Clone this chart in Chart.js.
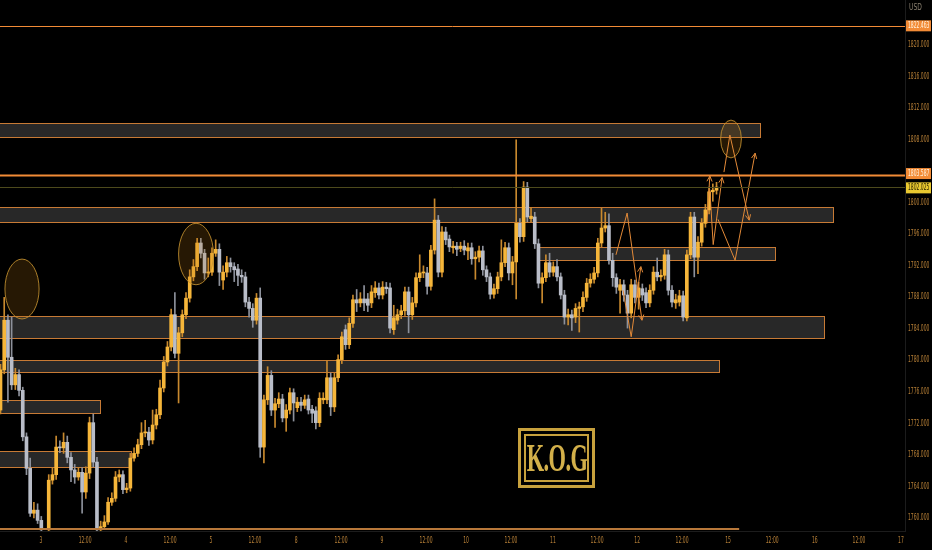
<!DOCTYPE html>
<html>
<head>
<meta charset="utf-8">
<script src="https://cdn.jsdelivr.net/npm/chart.js@4.4.1/dist/chart.umd.min.js"></script>
<style>
  html, body { margin: 0; padding: 0; background: #000; }
  #wrap { position: relative; width: 932px; height: 550px; background: #000; }
  #logo {
    position: absolute; left: 518px; top: 428px; width: 71px; height: 54px;
    border: 3px solid #c7a13d; padding: 0;
  }
  #logo .inner {
    position: absolute; left: 3px; top: 3px; right: 3px; bottom: 3px;
    border: 2px solid #c7a13d; overflow: hidden;
  }
  #logo span {
    position: absolute; left: 50%; top: 50%;
    transform: translate(-50%, -52%) scaleX(0.56);
    font-family: "Liberation Serif", "DejaVu Serif", serif; font-size: 40px; font-weight: bold;
    color: #d3b04a; white-space: nowrap; letter-spacing: -1px;
  }
</style>
</head>
<body>
<div id="wrap">
  <canvas id="chart"></canvas>
  <div id="logo"><div class="inner"><span>K.O.G</span></div></div>
</div>
<script>
// hourly candles, one slot per index (null = session gap)
const opens = [1773.7,1778.8,1785.1,1780.4,1776.9,1778.2,1776.2,1770.3,1766.3,1760.6,1761.0,1759.7,null,
  1758.5,1764.8,1765.5,1769.0,1768.9,1769.6,1767.7,1766.1,1765.2,1765.8,1763.3,1765.7,1772.1,1767.1,
  1758.5,1758.9,1759.5,1762.0,1762.5,1765.2,1765.5,1763.6,1763.8,1767.6,1768.2,1769.3,1770.8,1770.9,
  1769.9,1771.8,1773.1,1776.5,1779.8,1781.7,1785.8,1780.9,1783.5,1785.8,1787.9,1790.6,1791.9,1794.9,
  1793.6,1791.1,1791.2,1793.6,1794.1,1790.2,1791.2,1792.4,1791.9,1791.6,1790.8,1790.6,1787.4,1786.6,
  1785.1,1787.9,1769.0,1775.0,1778.1,1773.7,1774.5,1775.1,1772.7,1773.7,1775.9,1774.0,1774.7,1774.3,
  1775.1,1773.8,1773.6,1772.1,1775.0,1775.0,1777.8,1774.1,1777.8,1780.1,1783.9,1782.0,1784.7,1787.7,
  1787.3,1787.8,1787.8,1787.3,1788.6,1789.2,1788.3,1789.3,1789.2,1783.9,1785.1,1785.8,1786.3,1788.7,
  1785.8,1787.3,1790.5,1791.1,1791.1,1789.4,1794.0,1797.8,1791.2,1796.3,1795.4,1794.3,1794.5,1794.2,
  1794.5,1793.9,1794.3,1792.9,1793.1,1793.9,1791.5,1790.6,1788.4,1789.1,1790.6,1792.4,1794.3,1791.1,
  1792.5,1797.4,1795.7,1802.0,1798.0,1798.2,1794.8,1789.8,1790.5,1792.4,1791.2,1791.9,1790.6,1788.3,
  1785.5,1785.8,1785.5,1786.6,1786.8,1788.0,1789.8,1790.3,1791.1,1794.9,1796.8,1797.1,1792.7,1790.5,
  1788.9,1789.6,1788.3,1786.0,1789.6,1788.0,1789.1,1788.6,1787.3,1788.9,1791.2,1790.6,1790.8,1793.4,
  1788.9,1787.3,1787.4,1788.2,1785.4,1793.4,1798.2,1793.1,1795.0,1797.4,1799.1,1801.4,1801.6];
const highs = [1779.5,1788.0,1785.8,1785.5,1779.0,1778.8,1776.6,1770.8,1767.6,1762.0,1761.8,1760.2,null,
  1765.5,1766.4,1770.4,1769.8,1770.8,1770.4,1768.3,1766.8,1766.4,1766.4,1766.5,1772.8,1773.2,1767.7,
  1759.6,1760.3,1762.6,1763.2,1765.9,1766.1,1766.0,1764.4,1768.2,1768.9,1770.0,1772.1,1772.4,1771.5,
  1773.7,1773.8,1777.5,1780.5,1782.4,1786.5,1788.6,1784.2,1786.4,1788.6,1791.5,1792.8,1795.5,1795.5,
  1794.1,1793.0,1794.3,1795.3,1794.8,1792.0,1793.2,1793.0,1792.4,1792.2,1791.5,1791.2,1788.0,1787.2,
  1788.5,1789.2,1775.6,1779.2,1778.7,1775.2,1775.9,1775.7,1774.4,1776.5,1776.4,1775.3,1775.3,1775.6,
  1775.6,1774.3,1774.1,1775.9,1775.9,1780.0,1778.4,1778.4,1780.7,1783.6,1784.5,1785.4,1788.3,1789.0,
  1788.6,1789.5,1788.5,1789.5,1790.0,1789.8,1790.0,1789.9,1789.8,1787.0,1786.5,1787.0,1789.3,1789.3,
  1788.0,1791.1,1793.4,1792.0,1791.8,1794.6,1800.5,1798.4,1797.0,1796.9,1795.9,1795.1,1795.0,1795.0,
  1795.2,1794.9,1794.9,1793.8,1794.5,1794.5,1792.0,1791.1,1789.7,1791.2,1795.3,1795.0,1794.9,1793.2,
  1808.0,1798.0,1802.7,1802.6,1799.4,1798.8,1795.4,1791.1,1793.4,1793.6,1792.5,1792.8,1791.1,1788.9,
  1786.5,1786.4,1787.2,1787.4,1788.7,1790.4,1791.0,1791.8,1795.5,1799.3,1798.8,1798.6,1793.6,1791.0,
  1790.3,1790.2,1788.9,1790.3,1790.2,1789.9,1789.7,1789.2,1789.6,1791.9,1793.0,1791.5,1794.1,1794.0,
  1789.5,1788.4,1788.9,1788.8,1794.0,1798.8,1798.8,1795.7,1798.0,1799.8,1802.0,1802.4,1802.6];
const lows = [1773.2,1778.3,1774.7,1776.3,1776.3,1775.5,1769.8,1765.5,1760.2,1760.0,1759.3,1758.4,null,
  1758.4,1764.3,1764.9,1768.3,1768.2,1767.0,1764.6,1764.4,1764.8,1760.6,1762.5,1765.0,1766.5,1758.4,
  1758.4,1758.6,1759.2,1761.6,1762.1,1764.6,1763.1,1763.2,1763.4,1767.2,1767.8,1768.8,1770.3,1769.2,
  1769.4,1771.3,1772.6,1776.0,1779.3,1781.2,1780.3,1774.6,1783.0,1785.3,1787.4,1790.1,1791.4,1793.0,
  1790.3,1790.6,1790.8,1793.2,1789.5,1789.0,1790.6,1791.2,1790.0,1789.5,1789.9,1786.8,1785.5,1784.2,
  1784.6,1767.7,1767.0,1774.4,1773.0,1771.5,1774.0,1772.2,1771.0,1773.2,1772.3,1773.5,1773.6,1773.9,
  1773.2,1772.1,1771.3,1771.6,1774.5,1774.5,1773.0,1773.5,1777.3,1779.6,1781.4,1781.5,1784.2,1786.2,
  1786.8,1786.3,1786.2,1786.7,1788.0,1787.8,1787.8,1788.5,1783.5,1783.3,1784.6,1785.3,1785.7,1783.5,
  1785.2,1786.8,1790.0,1790.5,1788.4,1788.9,1793.5,1790.6,1790.6,1794.7,1793.8,1793.6,1793.3,1793.8,
  1793.4,1792.8,1792.2,1790.3,1792.5,1790.8,1790.0,1787.8,1787.9,1788.5,1790.1,1791.9,1790.2,1789.6,
  1787.8,1795.0,1795.1,1797.6,1797.6,1794.2,1789.2,1787.3,1790.0,1790.6,1790.7,1790.1,1787.8,1784.6,
  1784.5,1783.8,1784.8,1783.6,1786.2,1787.5,1789.3,1789.8,1790.6,1794.4,1796.3,1792.2,1789.4,1788.5,
  1786.0,1787.5,1784.1,1785.4,1787.3,1786.5,1787.6,1786.7,1786.8,1788.4,1790.1,1790.1,1790.3,1788.3,
  1786.8,1786.6,1786.9,1785.0,1785.0,1792.9,1790.6,1791.0,1794.5,1796.9,1798.6,1800.2,1801.1];
const closes = [1778.8,1785.1,1780.4,1776.9,1778.2,1776.2,1770.3,1766.3,1760.6,1761.0,1759.7,1758.5,null,
  1764.8,1765.5,1769.0,1768.9,1769.6,1767.7,1766.1,1765.2,1765.8,1763.3,1765.7,1772.1,1767.1,1758.5,
  1758.9,1759.5,1762.0,1762.5,1765.2,1765.5,1763.6,1763.8,1767.6,1768.2,1769.3,1770.8,1770.9,1769.9,
  1771.8,1773.1,1776.5,1779.8,1781.7,1785.8,1780.9,1783.5,1785.8,1787.9,1790.6,1791.9,1794.9,1793.6,
  1791.1,1791.2,1793.6,1794.1,1791.2,1791.2,1792.4,1791.9,1791.5,1790.8,1790.6,1787.4,1786.6,1785.1,
  1787.9,1769.0,1775.0,1778.1,1773.7,1774.5,1775.1,1772.7,1773.7,1775.9,1774.6,1774.7,1774.3,1775.0,
  1773.7,1773.3,1772.1,1775.2,1775.2,1777.8,1774.1,1777.8,1780.1,1783.0,1782.0,1784.7,1787.7,1787.3,
  1787.8,1787.3,1787.0,1788.7,1789.2,1788.3,1789.3,1789.1,1784.1,1785.4,1785.8,1786.3,1788.7,1785.8,
  1787.3,1790.5,1791.1,1791.2,1789.4,1794.0,1797.8,1791.2,1796.3,1795.3,1794.4,1794.5,1794.1,1794.5,
  1794.0,1794.3,1792.9,1793.1,1793.9,1791.5,1790.6,1788.4,1789.1,1790.6,1792.4,1794.3,1791.1,1792.5,
  1797.4,1795.7,1802.0,1798.2,1798.3,1794.8,1789.8,1790.5,1792.4,1791.2,1791.9,1790.6,1788.3,1785.5,
  1785.8,1785.4,1786.6,1786.8,1788.0,1789.8,1790.3,1791.1,1794.9,1796.8,1797.1,1792.7,1790.5,1789.3,
  1789.6,1788.3,1786.0,1789.6,1788.0,1789.2,1788.3,1787.3,1788.9,1791.2,1790.6,1790.8,1793.4,1788.9,
  1787.4,1787.7,1788.2,1785.5,1793.4,1798.2,1793.1,1795.0,1797.4,1799.1,1801.4,1801.6,1802.0];

// time axis: tick positions in candle slots and their labels
const xTickPos = [10.9,22.8,33.8,45.7,56.7,68.6,79.7,91.8,102.8,114.7,125.5,137.6,148.9,160.8,171.6,183.7,196.1,208.0,219.5,231.4,242.7];
const xTickLabels = ["3","12:00","4","12:00","5","12:00","8","12:00","9","12:00","10","12:00","11","12:00","12","12:00","15","12:00","16","12:00","17"];
// 1804 is hidden behind the level tags in the original
const priceTicks = [1760,1764,1768,1772,1776,1780,1784,1788,1792,1796,1800,1808,1812,1816,1820];

// supply / demand boxes
const zoneHigh = [1810.1, 1799.47, 1794.4, 1785.6, 1780.05, 1775.0, 1768.5];
const zoneLow  = [1808.35, 1797.56, 1792.74, 1782.8, 1778.5, 1773.3, 1766.5];
const zoneFrom = [-2, -2, 144.9, -2, -2, -2, -2];
const zoneTo   = [204.7, 224.4, 208.8, 222.0, 193.7, 26.8, 35.2];

// horizontal price levels with axis tags
const levelPrice = [1822.463, 1803.587, 1802.025];
const levelColor = ["#f28b36", "#f28b36", "#4d4a1c"];
const tagColor   = ["#f28b36", "#f28b36", "#e9c830"];
const lowLinePrice = 1758.6, lowLineTo = 199.1;

// highlight ellipses (centre slot, centre price, radius in slots, radius in price)
const ellX  = [5.8, 52.7, 196.9];
const ellY  = [1789.06, 1793.5, 1808.1];
const ellRX = [4.6, 4.7, 2.8];
const ellRY = [3.8, 3.9, 2.4];

// projected paths, arrow head at the last point
const arrowPaths = [
  [[165.9,1793.4],[168.9,1798.7],[172.9,1785.1]],
  [[167.8,1788.9],[170.0,1783.0],[172.6,1791.9]],
  [[190.4,1797.4],[191.2,1803.4]],
  [[191.2,1801.7],[192.1,1794.7],[194.5,1803.2]],
  [[193.4,1797.9],[198.0,1792.7],[203.4,1806.3]],
  [[195.0,1803.9],[196.6,1808.6],[201.8,1797.8]]
];

const UP = "#f6b63a", DOWN = "#b9bdc8", UP_WICK = "#c8892e", DOWN_WICK = "#8d919b";
const AXIS_TEXT = "#b98137";
const AXIS_FONT = "8px 'DejaVu Sans', sans-serif";

const wickData = [], bodyData = [], wickColors = [], bodyColors = [];
opens.forEach((o, i) => {
  if (o === null) return;
  const up = closes[i] >= o;
  wickData.push({ x: i, y: [lows[i], highs[i]] });
  bodyData.push({ x: i, y: [o, closes[i]] });
  wickColors.push(up ? UP_WICK : DOWN_WICK);
  bodyColors.push(up ? UP : DOWN);
});

function arrowHead(ctx, x0, y0, x1, y1) {
  const a = Math.atan2(y1 - y0, x1 - x0);
  const len = 6;
  ctx.beginPath();
  ctx.moveTo(x1 - len * Math.cos(a - 0.45), y1 - len * Math.sin(a - 0.45));
  ctx.lineTo(x1, y1);
  ctx.lineTo(x1 - len * Math.cos(a + 0.45), y1 - len * Math.sin(a + 0.45));
  ctx.stroke();
}

// narrow axis text (TradingView uses a condensed look)
function narrowText(ctx, text, x, y, align, squeeze) {
  ctx.save();
  ctx.translate(x, y);
  ctx.scale(squeeze, 1);
  ctx.textAlign = align;
  ctx.fillText(text, 0, 0);
  ctx.restore();
}

const overlay = {
  id: "overlay",
  beforeDatasetsDraw(chart) {
    const { ctx, chartArea: ca, scales: { x, y } } = chart;
    ctx.save();
    ctx.beginPath();
    ctx.rect(ca.left, ca.top, ca.right - ca.left, ca.bottom - ca.top);
    ctx.clip();
    for (let k = 0; k < zoneHigh.length; k++) {
      const x0 = Math.round(x.getPixelForValue(zoneFrom[k])) + 0.5;
      const x1 = Math.round(x.getPixelForValue(zoneTo[k])) + 0.5;
      const y0 = Math.round(y.getPixelForValue(zoneHigh[k])) + 0.5;
      const y1 = Math.round(y.getPixelForValue(zoneLow[k])) + 0.5;
      ctx.fillStyle = "rgba(66,66,66,0.6)";
      ctx.fillRect(x0, y0, x1 - x0, y1 - y0);
      ctx.strokeStyle = "#c77a35";
      ctx.lineWidth = 1;
      ctx.strokeRect(x0, y0, x1 - x0, y1 - y0);
    }
    ctx.restore();
  },
  afterDatasetsDraw(chart) {
    const { ctx, chartArea: ca, scales: { x, y } } = chart;
    ctx.save();
    ctx.beginPath();
    ctx.rect(ca.left, ca.top, ca.right - ca.left, ca.bottom - ca.top);
    ctx.clip();
    // low line
    const ly = y.getPixelForValue(lowLinePrice);
    ctx.strokeStyle = "#b8783a";
    ctx.lineWidth = 2;
    ctx.beginPath();
    ctx.moveTo(0, ly);
    ctx.lineTo(x.getPixelForValue(lowLineTo), ly);
    ctx.stroke();
    // ellipses
    for (let k = 0; k < ellX.length; k++) {
      const cx = x.getPixelForValue(ellX[k]), cy = y.getPixelForValue(ellY[k]);
      const rx = x.getPixelForValue(ellX[k] + ellRX[k]) - cx;
      const ry = cy - y.getPixelForValue(ellY[k] + ellRY[k]);
      ctx.beginPath();
      ctx.ellipse(cx, cy, rx, ry, 0, 0, Math.PI * 2);
      ctx.fillStyle = "rgba(190,120,20,0.2)";
      ctx.fill();
      ctx.strokeStyle = "rgba(196,146,48,0.85)";
      ctx.lineWidth = 1;
      ctx.stroke();
    }
    // arrows
    ctx.strokeStyle = "#e38a38";
    ctx.lineWidth = 1;
    arrowPaths.forEach(path => {
      const pts = path.map(p => [x.getPixelForValue(p[0]), y.getPixelForValue(p[1])]);
      ctx.beginPath();
      ctx.moveTo(pts[0][0], pts[0][1]);
      for (let i = 1; i < pts.length; i++) ctx.lineTo(pts[i][0], pts[i][1]);
      ctx.stroke();
      const n = pts.length;
      arrowHead(ctx, pts[n - 2][0], pts[n - 2][1], pts[n - 1][0], pts[n - 1][1]);
    });
    ctx.restore();
  },
  afterDraw(chart) {
    const { ctx, scales: { x, y } } = chart;
    const W = chart.width;
    ctx.save();
    ctx.font = AXIS_FONT;
    ctx.textBaseline = "middle";
    ctx.fillStyle = AXIS_TEXT;
    // tick labels from the library's ticks
    y.ticks.forEach(t => {
      narrowText(ctx, t.value.toFixed(3), y.left + 3, y.getPixelForValue(t.value), "left", 0.56);
    });
    x.ticks.forEach((t, i) => {
      const px = x.getPixelForValue(t.value);
      if (px > y.left - 2) return;
      narrowText(ctx, xTickLabels[i], px, x.top + 10, "center", 0.56);
    });
    for (let k = 0; k < levelPrice.length; k++) {
      const py = Math.round(y.getPixelForValue(levelPrice[k])) + 0.5;
      ctx.strokeStyle = levelColor[k];
      ctx.lineWidth = k === 1 ? 2 : 1;
      ctx.beginPath();
      ctx.moveTo(0, py);
      ctx.lineTo(y.left, py);
      ctx.stroke();
    }
    // tags on the price axis
    for (let k = 0; k < levelPrice.length; k++) {
      let py = y.getPixelForValue(levelPrice[k]);
      if (k === 2) py += 1;
      if (k === 1) py -= 1;
      ctx.fillStyle = tagColor[k];
      ctx.fillRect(y.left + 1, py - 5.5, W - y.left - 2, 11);
      ctx.fillStyle = k === 2 ? "#2a2200" : "#fff3e0";
      narrowText(ctx, levelPrice[k].toFixed(3), y.left + 3, py + 0.5, "left", 0.56);
    }
    ctx.fillStyle = "#8a8070";
    narrowText(ctx, "USD", y.left + 4, 8, "left", 0.75);
    ctx.restore();
  }
};

const ctx = document.getElementById("chart").getContext("2d");
new Chart(ctx, {
  type: "bar",
  data: {
    datasets: [
      { data: wickData, backgroundColor: wickColors, barThickness: 1, grouped: false, order: 2 },
      { data: bodyData, backgroundColor: bodyColors, barThickness: 3, grouped: false, minBarLength: 1, order: 1 }
    ]
  },
  options: {
    responsive: true,
    maintainAspectRatio: false,
    animation: false,
    layout: { padding: 0 },
    plugins: { legend: { display: false }, tooltip: { enabled: false } },
    scales: {
      x: {
        type: "linear",
        offset: false,
        min: -0.135,
        max: 243.8,
        grid: { display: false },
        border: { color: "#1c1c1c" },
        afterBuildTicks: s => { s.ticks = xTickPos.map(v => ({ value: v })); },
        afterFit: s => { s.height = 19; s.paddingLeft = 0; s.paddingRight = 0; },
        ticks: { display: false, autoSkip: false }
      },
      y: {
        position: "right",
        min: 1758.35,
        max: 1825.74,
        grid: { display: false },
        border: { color: "#1c1c1c" },
        afterBuildTicks: s => { s.ticks = priceTicks.map(v => ({ value: v })); },
        afterFit: s => { s.width = 27; s.paddingTop = 0; s.paddingBottom = 0; },
        ticks: { display: false }
      }
    }
  },
  plugins: [overlay]
});
</script>
</body>
</html>
